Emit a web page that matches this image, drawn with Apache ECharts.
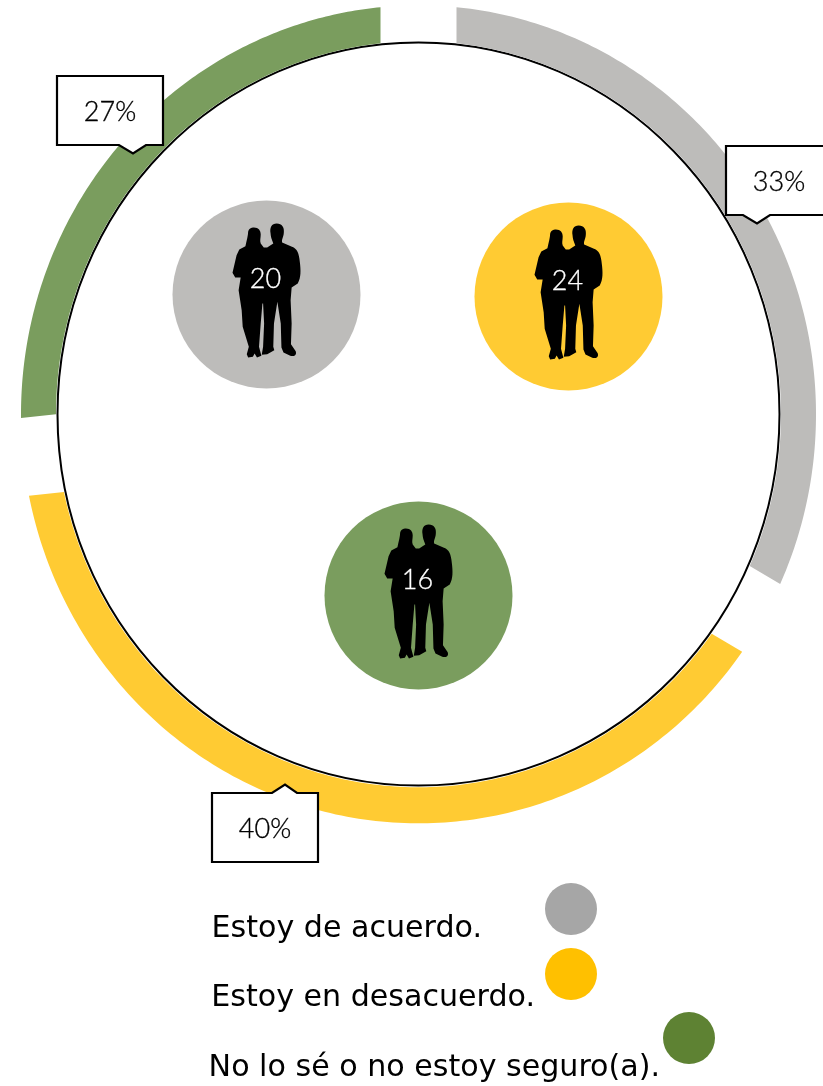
<!DOCTYPE html>
<html>
<head>
<meta charset="utf-8">
<style>html,body{margin:0;padding:0;background:#fff}#c{width:823px;height:1086px}</style>
<script src="https://cdn.jsdelivr.net/npm/echarts@6/dist/echarts.min.js"></script>
</head>
<body>
<div id="c"></div>
<script>
const categories = ['Estoy de acuerdo.', 'Estoy en desacuerdo.', 'No lo sé o no estoy seguro(a).'];
const counts = [20, 24, 16];

const ringColors = ['#BDBCBA', '#FFCB33', '#7A9D5E'];
const legendColors = ['#A6A6A6', '#FFC000', '#5E8233'];
const bubbleCenters = [[266.5, 294.5], [568.5, 296.5], [418.5, 595.5]];
const calloutBoxes = [[726, 146], [212, 793], [57, 76]];
const notchX = [[743, 757, 770], [272, 285, 297], [119, 133, 146]];
const notchUp = [false, true, false];
const BOX_W = 106, BOX_H = 69, NOTCH = 8.5;
const LEGEND_ICON = 52;
const legendPlaces = [
  { right: 226, top: 883, gap: 63, drop: 20 },
  { right: 226, top: 948, gap: 10, drop: 24 },
  { right: 108, top: 1012, gap: 3, drop: 30 }
];
const RING = { cx: 418.5, cy: 414.3, r0: 362.5, r: 397.5, stretch: 1.029, gapHalf: 38 };

const couple = 'path://M283,112 C297,112 303,122 303,133 C303,145 300,150 303,160 L312,172 L322,172 L340,160 C338,152 333,145 332,130 C329,112 335,100 350,100 C366,100 373,112 371,128 C370,142 364,148 366,157 L395,170 C410,175 416,190 418,215 C421,240 422,262 412,280 L394,292 L391,330 L394,400 L392,462 L406,483 C410,495 400,500 390,497 L370,487 L364,472 L362,400 L352,335 L342,400 L340,470 L343,480 L322,492 L306,494 L310,470 L313,400 L310,340 L308,340 L303,400 L298,470 L305,497 L292,502 L285,490 L280,500 L266,502 L262,492 L268,470 L250,410 L247,360 L238,300 L244,262 L228,262 L220,248 L232,195 L240,178 L258,168 C262,150 266,135 266,125 C268,115 275,112 283,112 Z';

const total = counts.reduce((a, b) => a + b, 0);

function ringPoint(angle, radius, c) {
  return [c[0] + radius * Math.sin(angle), c[1] - radius * Math.cos(angle) * RING.stretch];
}
function slicePoints(from, to, c) {
  const pts = [];
  const steps = 160;
  const outerPad = Math.asin(RING.gapHalf / RING.r), innerPad = Math.asin(RING.gapHalf / RING.r0);
  for (let s = 0; s <= steps; s++) {
    pts.push(ringPoint(from + outerPad + (to - from - 2 * outerPad) * s / steps, RING.r, c));
  }
  for (let s = steps; s >= 0; s--) {
    pts.push(ringPoint(from + innerPad + (to - from - 2 * innerPad) * s / steps, RING.r0, c));
  }
  return pts;
}
function calloutPoints(i) {
  const [x, y] = calloutBoxes[i];
  const n = notchX[i];
  if (notchUp[i]) {
    return [[x, y], [n[0], y], [n[1], y - NOTCH], [n[2], y], [x + BOX_W, y], [x + BOX_W, y + BOX_H], [x, y + BOX_H]];
  }
  const b = y + BOX_H;
  return [[x, y], [x + BOX_W, y], [x + BOX_W, b], [n[2], b], [n[1], b + NOTCH], [n[0], b], [x, b]];
}

const chart = echarts.init(document.getElementById('c'), null, { renderer: 'canvas' });
const calloutFont = 'Lato';

const ringSeries = categories.map((c, i) => ({
  type: 'custom',
  name: c,
  coordinateSystem: 'cartesian2d',
  silent: true,
  clip: false,
  z: 2,
  itemStyle: { color: ringColors[i] },
  data: [{ name: c, value: [RING.cx, RING.cy, counts[i], counts.slice(0, i).reduce((a, b) => a + b, 0)] }],
  renderItem: (params, api) => {
    const p = api.coord([api.value(0), api.value(1)]);
    const from = api.value(3) / total * Math.PI * 2;
    const to = (api.value(3) + api.value(2)) / total * Math.PI * 2;
    const [bx, by] = calloutBoxes[i];
    return {
      type: 'group',
      children: [
        { type: 'polygon', shape: { points: slicePoints(from, to, p) }, style: { fill: ringColors[i], stroke: null } },
        { type: 'polygon', z2: 10, shape: { points: calloutPoints(i) }, style: { fill: '#fff', stroke: '#000', lineWidth: 2.2 } },
        { type: 'text', z2: 11, style: {
            x: bx + BOX_W / 2, y: by + BOX_H / 2 + 1.5,
            text: Math.round(api.value(2) / total * 100) + '%',
            align: 'center', verticalAlign: 'middle',
            fontFamily: calloutFont, fontWeight: 300, fontSize: 27, fill: '#000',
            stroke: '#000', lineWidth: 0.35
        } }
      ]
    };
  }
}));

chart.setOption({
  animation: false,
  backgroundColor: '#fff',
  grid: { left: 0, top: 0, width: 823, height: 1086 },
  xAxis: { type: 'value', min: 0, max: 823, show: false },
  yAxis: { type: 'value', min: 0, max: 1086, inverse: true, show: false },
  legend: legendPlaces.map((p, i) => ({
    orient: 'vertical',
    right: p.right,
    top: p.top - (p.drop * 4 - LEGEND_ICON) / 2,
    padding: 0,
    align: 'right',
    icon: 'circle',
    itemWidth: LEGEND_ICON,
    itemHeight: LEGEND_ICON,
    selectedMode: false,
    data: [{ name: categories[i], itemStyle: { color: legendColors[i], borderWidth: 0 } }],
    formatter: n => '\n' + n,
    textStyle: {
      fontFamily: 'DejaVu Sans',
      fontSize: 30.1,
      lineHeight: p.drop * 2,
      color: '#000',
      padding: [0, p.gap - 5, 0, 0]
    }
  })),
  graphic: [
    { type: 'ellipse', silent: true, z: 0, shape: { cx: 418.5, cy: 414, rx: 361, ry: 371.5 },
      style: { fill: '#fff', stroke: '#000', lineWidth: 2 } }
  ],
  series: [
    ...ringSeries,
    {
      type: 'scatter',
      name: 'Círculos',
      silent: true,
      symbol: 'circle',
      symbolSize: 188,
      data: counts.map((v, i) => ({
        value: bubbleCenters[i],
        itemStyle: { color: ringColors[i], opacity: 1 }
      })),
      z: 3
    },
    {
      type: 'scatter',
      name: 'Personas',
      silent: true,
      symbol: couple,
      symbolSize: [68, 134],
      itemStyle: { color: '#000', opacity: 1 },
      data: counts.map((v, i) => ({ value: [bubbleCenters[i][0], bubbleCenters[i][1] - 4, v] })),
      label: {
        show: true,
        position: 'inside',
        offset: [-1, -11],
        formatter: p => String(p.value[2]),
        fontFamily: calloutFont,
        fontWeight: 300,
        fontSize: 27,
        color: '#fff',
        textBorderColor: '#fff',
        textBorderWidth: 0.3
      },
      z: 4
    }
  ]
});
</script>
</body>
</html>
